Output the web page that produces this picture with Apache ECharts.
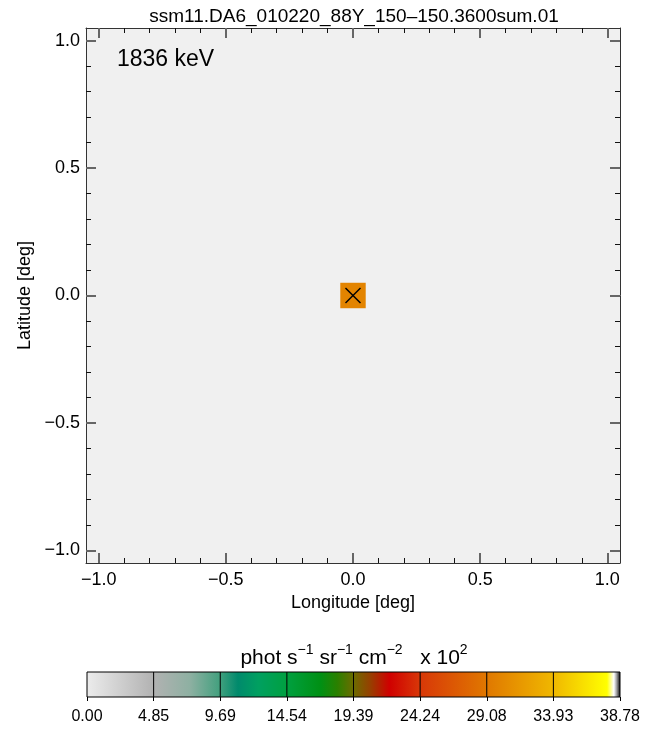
<!DOCTYPE html>
<html>
<head>
<meta charset="utf-8">
<script src="https://cdn.jsdelivr.net/npm/echarts@6/dist/echarts.min.js"></script>
<style>
html,body{margin:0;padding:0;background:#fff;}
#chart{width:657px;height:730px;}
</style>
</head>
<body>
<div id="chart"></div>
<script>
// ---- data ----
const titleText = 'ssm11.DA6_010220_88Y_150\u2013150.3600sum.01';
const energyLabel = '1836 keV';
const xMajorTicks = [-1.0, -0.5, 0.0, 0.5, 1.0];
const xMajorLabels = ['\u22121.0', '\u22120.5', '0.0', '0.5', '1.0'];
const xMinorTicks = [-0.9, -0.8, -0.7, -0.6, -0.4, -0.3, -0.2, -0.1, 0.1, 0.2, 0.3, 0.4, 0.6, 0.7, 0.8, 0.9];
const yMajorTicks = [-1.0, -0.5, 0.0, 0.5, 1.0];
const yMajorLabels = ['\u22121.0', '\u22120.5', '0.0', '0.5', '1.0'];
const yMinorTicks = [-0.9, -0.8, -0.7, -0.6, -0.4, -0.3, -0.2, -0.1, 0.1, 0.2, 0.3, 0.4, 0.6, 0.7, 0.8, 0.9];
const axisMin = -1.05, axisMax = 1.05;
const binSize = 0.1;
// pixels: [longitude, latitude, value (x10^2)]
const pixels = [[0.0, 0.0, 30.0]];
const sourceMarks = [[0.0, 0.0]];
// colour bar
const cbMin = 0, cbMax = 38.78;
const cbTickValues = [0, 4.8475, 9.695, 14.5425, 19.39, 24.2375, 29.085, 33.9325, 38.78];
const cbTickLabels = ['0.00', '4.85', '9.69', '14.54', '19.39', '24.24', '29.08', '33.93', '38.78'];
const cbStopValues = [0, 4.85, 7.5, 9.69, 11.0, 12.5, 14.54, 17.0, 18.2, 19.39, 20.6, 22.0, 24.24, 29.08, 33.93, 37.8, 38.3, 38.5, 38.78];
const cbStopColors = ['#ececec', '#b2b2b2', '#8eb0a2', '#42a07e', '#008a6c', '#00a060', '#00a040', '#009014', '#2a8000', '#6c6c00', '#964000', '#d00000', '#d83808', '#e07800', '#f0b800', '#ffff00', '#ffffff', '#a0a0a0', '#000000'];

// ---- helpers ----
function hexToRgb(h){return [parseInt(h.substr(1,2),16),parseInt(h.substr(3,2),16),parseInt(h.substr(5,2),16)];}
function colorFor(v){
  if (v <= cbStopValues[0]) return cbStopColors[0];
  for (let i = 1; i < cbStopValues.length; i++) {
    if (v <= cbStopValues[i]) {
      const t = (v - cbStopValues[i-1]) / (cbStopValues[i] - cbStopValues[i-1]);
      const a = hexToRgb(cbStopColors[i-1]), b = hexToRgb(cbStopColors[i]);
      const c = a.map((x, k) => Math.round(x + (b[k] - x) * t));
      return 'rgb(' + c.join(',') + ')';
    }
  }
  return cbStopColors[cbStopColors.length - 1];
}
function nearestLabel(v, vals, labels){
  let best = 0;
  for (let i = 1; i < vals.length; i++) if (Math.abs(vals[i]-v) < Math.abs(vals[best]-v)) best = i;
  return labels[best];
}

const FONT = '"Liberation Sans", Arial, Helvetica, sans-serif';
const chart = echarts.init(document.getElementById('chart'), null, {renderer: 'canvas'});

function majorAxis(pos, isX, withLabel){
  const ticks = isX ? xMajorTicks : yMajorTicks;
  const labels = isX ? xMajorLabels : yMajorLabels;
  const ax = {
    type: 'value', gridIndex: 0, position: pos, min: axisMin, max: axisMax,
    axisLine: {show: true, onZero: false, lineStyle: {color: '#333', width: 1}},
    axisTick: {show: true, inside: true, length: 10, customValues: ticks, lineStyle: {color: '#666', width: 2}},
    axisLabel: withLabel ? {show: true, customValues: ticks, formatter: v => nearestLabel(v, ticks, labels),
      color: '#000', fontSize: 18, fontFamily: FONT, margin: isX ? 8 : 6} : {show: false},
    splitLine: {show: false}, minorTick: {show: false}
  };
  if (withLabel) {
    ax.name = isX ? 'Longitude [deg]' : 'Latitude [deg]';
    ax.nameLocation = 'middle';
    ax.nameGap = isX ? 31 : 52;
    ax.nameTextStyle = {color: '#000', fontSize: 18, fontFamily: FONT};
  }
  return ax;
}
function minorAxis(pos, isX){
  return {
    type: 'value', gridIndex: 0, position: pos, min: axisMin, max: axisMax,
    axisLine: {show: false, onZero: false},
    axisTick: {show: true, inside: true, length: 5, customValues: isX ? xMinorTicks : yMinorTicks, lineStyle: {color: '#111', width: 1}},
    axisLabel: {show: false}, splitLine: {show: false}
  };
}

const option = {
  backgroundColor: '#ffffff',
  animation: false,
  grid: [
    {left: 86, top: 28, width: 534, height: 535, show: true, backgroundColor: '#f0f0f0', borderWidth: 0},
    {left: 87, top: 672, width: 533, height: 25, show: false}
  ],
  xAxis: [
    majorAxis('bottom', true, true),
    minorAxis('bottom', true),
    majorAxis('top', true, false),
    minorAxis('top', true),
    {
      type: 'value', gridIndex: 1, position: 'bottom', min: cbMin, max: cbMax,
      axisLine: {show: false},
      axisTick: {show: true, inside: false, length: 4, customValues: cbTickValues, lineStyle: {color: '#000', width: 1}},
      axisLabel: {show: true, customValues: cbTickValues, formatter: v => nearestLabel(v, cbTickValues, cbTickLabels),
        color: '#000', fontSize: 16, fontFamily: FONT, margin: 12},
      splitLine: {show: false}
    }
  ],
  yAxis: [
    majorAxis('left', false, true),
    minorAxis('left', false),
    majorAxis('right', false, false),
    minorAxis('right', false),
    {type: 'value', gridIndex: 1, min: 0, max: 1, show: false}
  ],
  graphic: [
    {type: 'text', x: 354, y: 17, style: {text: titleText, font: '19px ' + FONT, fill: '#000', textAlign: 'center', textVerticalAlign: 'middle'}, z: 100},
    {type: 'text', x: 117, y: 60, style: {text: energyLabel, font: '23px ' + FONT, fill: '#000', textVerticalAlign: 'middle'}, z: 100},
    {type: 'text', x: 354, y: 656, style: {
      text: '{b|phot s}{s|\u22121}{b| sr}{s|\u22121}{b| cm}{s|\u22122}{b|   x 10}{s|2}',
      textAlign: 'center', textVerticalAlign: 'middle',
      rich: {
        b: {fontSize: 21, fontFamily: FONT, fill: '#000', verticalAlign: 'bottom', lineHeight: 26},
        s: {fontSize: 14, fontFamily: FONT, fill: '#000', verticalAlign: 'top', lineHeight: 26}
      }
    }, z: 100}
  ],
  series: [
    {
      type: 'custom', name: 'map', xAxisIndex: 0, yAxisIndex: 0, data: pixels, z: 5,
      renderItem: function(params, api){
        const x = api.value(0), y = api.value(1), v = api.value(2);
        const p0 = api.coord([x - binSize/2, y + binSize/2]);
        const p1 = api.coord([x + binSize/2, y - binSize/2]);
        return {type: 'rect', shape: {x: p0[0], y: p0[1], width: p1[0]-p0[0], height: p1[1]-p0[1]}, style: {fill: colorFor(v)}};
      }
    },
    {
      type: 'custom', name: 'source', xAxisIndex: 0, yAxisIndex: 0, data: sourceMarks, z: 6,
      renderItem: function(params, api){
        const c = api.coord([api.value(0), api.value(1)]);
        const h = 7.5;
        return {type: 'group', children: [
          {type: 'line', shape: {x1: c[0]-h, y1: c[1]-h, x2: c[0]+h, y2: c[1]+h}, style: {stroke: '#000', lineWidth: 1.5}},
          {type: 'line', shape: {x1: c[0]-h, y1: c[1]+h, x2: c[0]+h, y2: c[1]-h}, style: {stroke: '#000', lineWidth: 1.5}}
        ]};
      }
    },
    {
      type: 'custom', name: 'colorbar', xAxisIndex: 4, yAxisIndex: 4, data: [[cbMin, cbMax]], z: 5,
      renderItem: function(params, api){
        const p0 = api.coord([api.value(0), 1]);
        const p1 = api.coord([api.value(1), 0]);
        const stops = cbStopValues.map((v, i) => ({offset: (v - cbMin)/(cbMax - cbMin), color: cbStopColors[i]}));
        return {type: 'rect', shape: {x: p0[0], y: p0[1], width: p1[0]-p0[0], height: p1[1]-p0[1]},
          style: {fill: {type: 'linear', x: 0, y: 0, x2: 1, y2: 0, colorStops: stops}, stroke: '#000', lineWidth: 1}};
      }
    },
    {
      type: 'custom', name: 'cbdiv', xAxisIndex: 4, yAxisIndex: 4, data: cbTickValues.slice(1, -1).map(v => [v]), z: 6,
      renderItem: function(params, api){
        const a = api.coord([api.value(0), 0]);
        const b = api.coord([api.value(0), 1]);
        return {type: 'line', shape: {x1: a[0], y1: a[1], x2: b[0], y2: b[1]}, style: {stroke: '#000', lineWidth: 1}};
      }
    }
  ]
};
chart.setOption(option);
</script>
</body>
</html>
